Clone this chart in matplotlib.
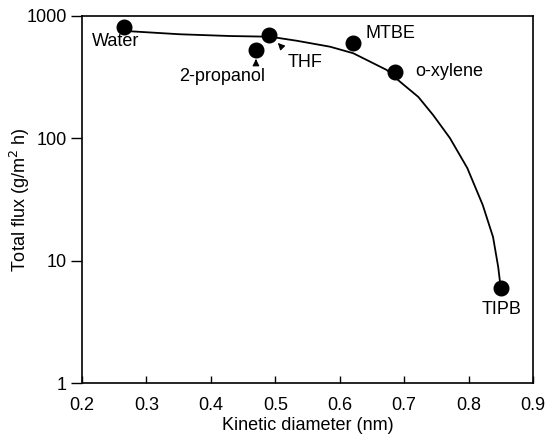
import matplotlib
matplotlib.use("Agg")
import matplotlib.pyplot as plt
from matplotlib.ticker import FixedLocator, NullLocator, FixedFormatter

plt.rcParams['font.family'] = ['Liberation Sans', 'DejaVu Sans']

# measured points
solvents = ['Water', '2-propanol', 'THF', 'MTBE', 'o-xylene', 'TIPB']
diameter = [0.265, 0.47, 0.49, 0.62, 0.686, 0.851]
flux = [810, 527, 700, 601, 349, 6.0]

# fitted trend line
curve_d = [0.268, 0.352, 0.430, 0.492, 0.533, 0.585, 0.621, 0.673,
           0.694, 0.722, 0.745, 0.771, 0.798, 0.822, 0.838, 0.846,
           0.849]
curve_j = [754, 709, 686, 677, 628, 561, 496, 362,
           289, 218, 155, 100.6, 57.2, 28.5, 15.6, 8.86,
           6.56]

x_ticks = [0.2, 0.3, 0.4, 0.5, 0.6, 0.7, 0.8, 0.9]
y_ticks = [1, 10, 100, 1000]

FS = 13


def main():
    fig = plt.figure(figsize=(5.47, 4.37), dpi=100)
    ax = fig.add_axes([82 / 547, 1 - 383 / 437, 451 / 547, 367 / 437])

    ax.plot(curve_d, curve_j, color='black', lw=1.3, zorder=2,
            solid_joinstyle='round')
    ax.plot(diameter, flux, 'o', color='black', ms=10.5, zorder=3)

    ax.set_yscale('log')
    ax.set_xlim(0.2, 0.9)
    ax.set_ylim(1, 1000)
    ax.yaxis.set_major_locator(FixedLocator(y_ticks))
    ax.yaxis.set_major_formatter(FixedFormatter([str(v) for v in y_ticks]))
    ax.yaxis.set_minor_locator(NullLocator())
    ax.set_xticks(x_ticks)
    ax.set_xticklabels([f'{v:.1f}' for v in x_ticks])
    ax.tick_params(axis='x', direction='in', length=5, width=1,
                   labelsize=FS, pad=10)
    ax.tick_params(axis='y', direction='out', length=8, width=1,
                   labelsize=FS, pad=3)
    for sp in ax.spines.values():
        sp.set_linewidth(1.2)

    ax.set_xlabel('Kinetic diameter (nm)', fontsize=FS, labelpad=2)
    ax.set_ylabel('Total flux (g/m$^2$ h)', fontsize=FS)
    ax.yaxis.set_label_coords(-0.111, 0.5)

    ax.text(0.216, 615, 'Water', fontsize=FS, va='center', ha='left')
    ax.text(0.351, 320, '2-propanol', fontsize=FS, va='center', ha='left')
    ax.text(0.519, 415, 'THF', fontsize=FS, va='center', ha='left')
    ax.text(0.640, 720, 'MTBE', fontsize=FS, va='center', ha='left')
    ax.text(0.718, 355, 'o-xylene', fontsize=FS, va='center', ha='left')
    ax.text(0.851, 4.0, 'TIPB', fontsize=FS, va='center', ha='center')

    arrow = dict(arrowstyle='-|>,head_length=0.4,head_width=0.2',
                 color='black', lw=0.8)
    ax.annotate('', xy=(0.47, 445), xytext=(0.47, 405), arrowprops=arrow)
    ax.annotate('', xy=(0.501, 625), xytext=(0.510, 558), arrowprops=arrow)

    fig.savefig('out.png', dpi=100)


if __name__ == "__main__":
    main()
